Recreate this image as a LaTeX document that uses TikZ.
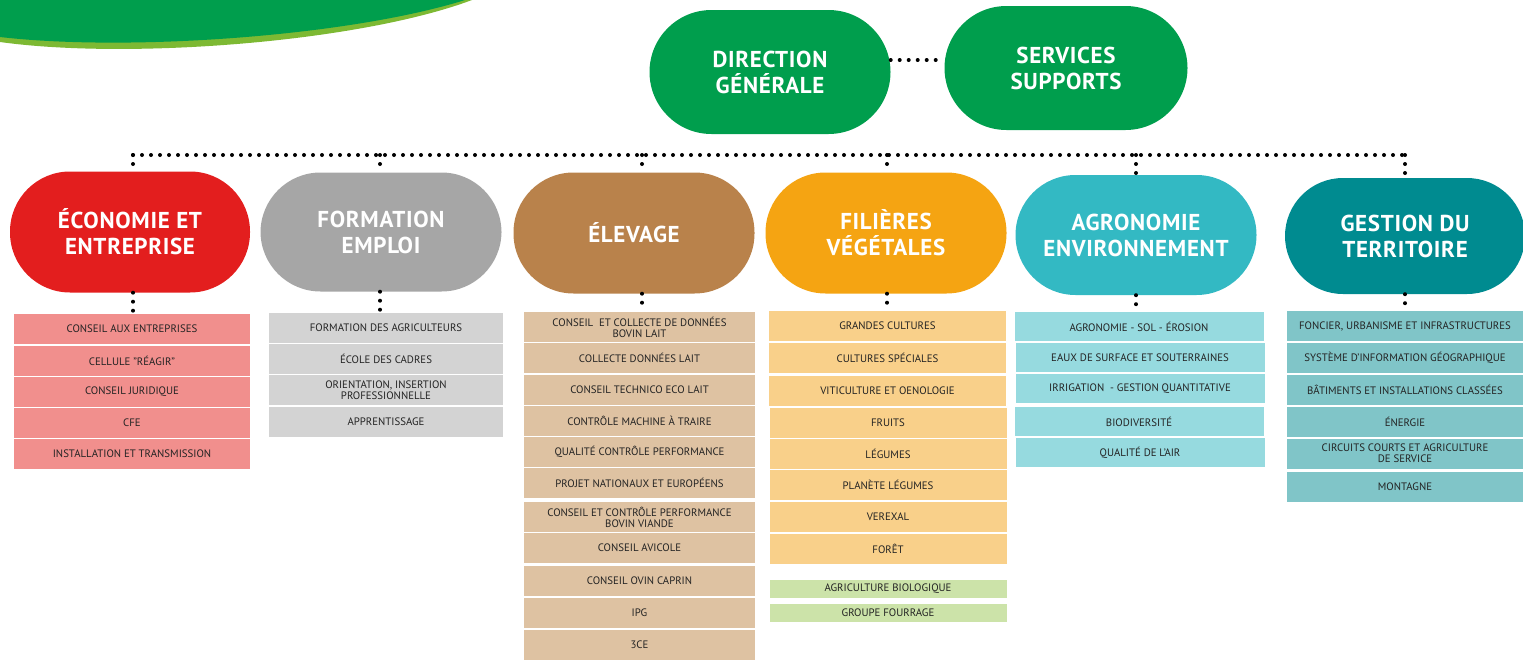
\documentclass[tikz,border=0pt]{standalone}
\usepackage{fontspec}
\setmainfont{PT Sans}
\newfontfamily\headfont{PT Sans}[LetterSpace=3.0]
\usetikzlibrary{calc}
\definecolor{dgreen}{RGB}{0,158,77}
\definecolor{lgreen}{RGB}{125,185,51}
\definecolor{cred}{RGB}{227,30,30}
\definecolor{cgray}{RGB}{166,166,166}
\definecolor{cbrown}{RGB}{185,130,75}
\definecolor{corange}{RGB}{245,164,18}
\definecolor{ccyan}{RGB}{51,185,195}
\definecolor{cteal}{RGB}{0,139,144}
\definecolor{lred}{RGB}{241,143,141}
\definecolor{lgray}{RGB}{211,211,211}
\definecolor{lbrown}{RGB}{222,194,162}
\definecolor{lorange}{RGB}{249,208,138}
\definecolor{lgreenb}{RGB}{204,227,169}
\definecolor{lcyan}{RGB}{150,218,223}
\definecolor{lteal}{RGB}{128,197,200}
\definecolor{txt}{RGB}{35,35,35}
\tikzset{
  pill/.style={rectangle, rounded corners=60pt, minimum width=241pt, minimum height=121pt,
    inner sep=0pt, align=center, text=white, font=\headfont\bfseries\fontsize{23}{26}\selectfont},
  item/.style={rectangle, inner sep=0pt, minimum height=30pt, align=center, text=txt,
    font=\fontsize{10.8}{10.8}\selectfont},
  dots/.style={line width=4pt, line cap=round, dash pattern=on 0pt off 9pt, black}
}
\begin{document}
\begin{tikzpicture}[x=1pt,y=-1pt]
\useasboundingbox (0,0) rectangle (1523,659);
% top-left arc
\fill[lgreen] (0,0) -- (0,42) .. controls (130,60) and (360,42) .. (472,0) -- cycle;
\fill[dgreen] (0,0) -- (0,37) .. controls (130,52) and (350,36) .. (465,0) -- cycle;

% direction
\node[pill, fill=dgreen, minimum height=124pt, rounded corners=62pt] (dg) at (770,72) {DIRECTION\\GÉNÉRALE};
\node[pill, fill=dgreen, minimum width=243pt, minimum height=124pt, rounded corners=62pt] (ss) at (1066,68) {SERVICES\\SUPPORTS};
\draw[dots] (dg.east |- 0,60) -- (ss.west |- 0,60);

% category pills
\node[pill, fill=cred, minimum width=240pt] (eco) at (130,232) {ÉCONOMIE ET\\ENTREPRISE};
\node[pill, fill=cgray, minimum height=119pt] (for) at (381,232) {FORMATION\\EMPLOI};
\node[pill, fill=cbrown] (ele) at (634,233) {ÉLEVAGE};
\node[pill, fill=corange] (fil) at (886,233) {FILIÈRES\\VÉGÉTALES};
\node[pill, fill=ccyan, minimum height=120pt] (agr) at (1136,235) {AGRONOMIE\\ENVIRONNEMENT};
\node[pill, fill=cteal, minimum width=240pt, minimum height=116pt, rounded corners=58pt] (ges) at (1405,236) {GESTION DU\\TERRITOIRE};

% bus taps
\coordinate (t1) at (133,155);
\coordinate (t2) at (380,155);
\coordinate (t3) at (642,155);
\coordinate (t4) at (887,155);
\coordinate (t5) at (1136,155);
\coordinate (t6) at (1405,155);
\draw[dots] (t1) -- (t6);

% column 1
\begin{scope}[every node/.style={item, fill=lred, minimum width=236pt}]
\node (a1) at (132,329) {CONSEIL AUX ENTREPRISES};
\node (a2) at (132,361) {CELLULE "RÉAGIR"};
\node (a3) at (132,392) {CONSEIL JURIDIQUE};
\node (a4) at (132,423) {CFE};
\node (a5) at (132,454) {INSTALLATION ET TRANSMISSION};
\end{scope}
% column 2
\begin{scope}[every node/.style={item, fill=lgray, minimum width=234pt}]
\node (b1) at (386,328) {FORMATION DES AGRICULTEURS};
\node (b2) at (386,359) {ÉCOLE DES CADRES};
\node (b3) at (386,390) {ORIENTATION, INSERTION\\PROFESSIONNELLE};
\node (b4) at (386,422) {APPRENTISSAGE};
\end{scope}
% column 3
\begin{scope}[every node/.style={item, fill=lbrown, minimum width=231pt}]
\node (c1) at (639.5,327) {CONSEIL \ ET COLLECTE DE DONNÉES\\BOVIN LAIT};
\node (c2) at (639.5,358) {COLLECTE DONNÉES LAIT};
\node (c3) at (639.5,390) {CONSEIL TECHNICO ECO LAIT};
\node (c4) at (639.5,421) {CONTRÔLE MACHINE À TRAIRE};
\node (c5) at (639.5,452) {QUALITÉ CONTRÔLE PERFORMANCE};
\node (c6) at (639.5,483) {PROJET NATIONAUX ET EUROPÉENS};
\node (c7) at (639.5,517) {CONSEIL ET CONTRÔLE PERFORMANCE\\BOVIN VIANDE};
\node (c8) at (639.5,548) {CONSEIL AVICOLE};
\node (c9) at (639.5,581) {CONSEIL OVIN CAPRIN};
\node (c10) at (639.5,613) {IPG};
\node (c11) at (639.5,645) {3CE};
\end{scope}
% column 4
\begin{scope}[every node/.style={item, fill=lorange, minimum width=237pt}]
\node (d1) at (887.5,326) {GRANDES CULTURES};
\node (d2) at (887.5,357.5) {CULTURES SPÉCIALES};
\node (d3) at (887.5,391) {VITICULTURE ET OENOLOGIE};
\node (d4) at (888,423) {FRUITS};
\node (d5) at (888,453.5) {LÉGUMES};
\node (d6) at (888,485) {PLANÈTE LÉGUMES};
\node (d7) at (888,517) {VEREXAL};
\node (d8) at (888,549) {FORÊT};
\end{scope}
\begin{scope}[every node/.style={item, fill=lgreenb, minimum width=237pt, minimum height=18pt}]
\node (d9) at (888,589) {AGRICULTURE BIOLOGIQUE};
\node (d10) at (888,613) {GROUPE FOURRAGE};
\end{scope}
% column 5
\begin{scope}[every node/.style={item, fill=lcyan, minimum width=249pt, minimum height=29pt}]
\node (e1) at (1139,326.5) {AGRONOMIE - SOL - ÉROSION};
\node (e2) at (1140,357.5) {EAUX DE SURFACE ET SOUTERRAINES};
\node (e3) at (1140,388.5) {IRRIGATION \ - GESTION QUANTITATIVE};
\node (e4) at (1139,421.5) {BIODIVERSITÉ};
\node (e5) at (1140,452.5) {QUALITÉ DE L’AIR};
\end{scope}
% column 6
\begin{scope}[every node/.style={item, fill=lteal, minimum width=236pt}]
\node (f1) at (1405,326) {FONCIER, URBANISME ET INFRASTRUCTURES};
\node (f2) at (1405,357.5) {SYSTÈME D’INFORMATION GÉOGRAPHIQUE};
\node (f3) at (1405,389.5) {BÂTIMENTS ET INSTALLATIONS CLASSÉES};
\node (f4) at (1405,422) {ÉNERGIE};
\node (f5) at (1405,453.5) {CIRCUITS COURTS ET AGRICULTURE\\DE SERVICE};
\node (f6) at (1405,487) {MONTAGNE};
\end{scope}

% connectors bus -> pills -> lists
\foreach \t/\p/\l in {t1/eco/a1, t2/for/b1, t3/ele/c1, t4/fil/d1, t5/agr/e1, t6/ges/f1}{
  \draw[dots] (\t) -- (\t |- \p.north);
  \draw[dots, shorten >=2pt] (\t |- \p.south) -- (\t |- \l.north);
}
\end{tikzpicture}
\end{document}
